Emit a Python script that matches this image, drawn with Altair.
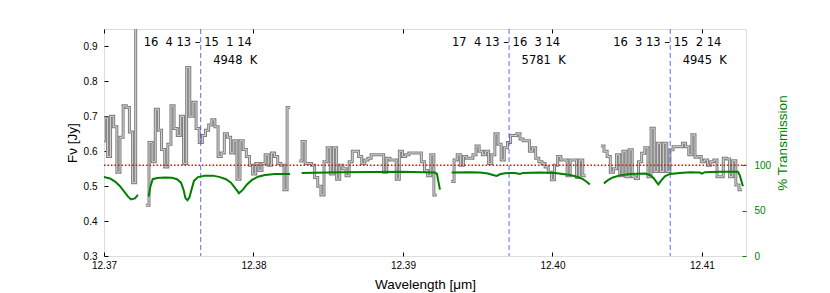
import altair as alt
import pandas as pd

# ---------------- data ----------------
# spectrum: sampled on a regular wavelength grid, separate segments
bin_width = 0.00021
seg_starts = [12.36981, 12.3728, 12.38304, 12.39321, 12.40324]

flux_a = [0.63, 0.695, 0.585, 0.70, 0.67, 0.54, 0.64, 0.73, 0.725, 0.655, 0.51, 1.2]
flux_b = [0.445, 0.625, 0.57, 0.72, 0.66, 0.605, 0.555, 0.62, 0.73, 0.665, 0.645, 0.70,
          0.565, 0.84, 0.70, 0.74, 0.665, 0.625, 0.645, 0.66, 0.675, 0.69, 0.67, 0.585,
          0.595, 0.65, 0.64, 0.595, 0.63, 0.52, 0.63, 0.605, 0.585, 0.56, 0.535, 0.565,
          0.545, 0.565, 0.59, 0.56, 0.595, 0.585, 0.565, 0.56, 0.49, 0.725, 0.725]
flux_c = [0.572, 0.628, 0.565, 0.565, 0.56, 0.525, 0.50, 0.475, 0.57, 0.61, 0.535, 0.61,
          0.52, 0.56, 0.55, 0.53, 0.57, 0.60, 0.60, 0.585, 0.565, 0.575, 0.58, 0.59,
          0.59, 0.59, 0.59, 0.54, 0.58, 0.575, 0.575, 0.52, 0.60, 0.585, 0.59, 0.595,
          0.595, 0.595, 0.595, 0.57, 0.545, 0.53, 0.59, 0.475, 0.475]
flux_d = [0.513, 0.575, 0.59, 0.56, 0.585, 0.58, 0.58, 0.59, 0.615, 0.60, 0.59, 0.60,
          0.565, 0.59, 0.65, 0.62, 0.575, 0.61, 0.625, 0.645, 0.645, 0.65, 0.635, 0.63,
          0.63, 0.60, 0.61, 0.58, 0.57, 0.565, 0.555, 0.54, 0.518, 0.56, 0.585, 0.575,
          0.575, 0.53, 0.575, 0.575, 0.525, 0.575, 0.53, 0.53]
flux_e = [0.615, 0.60, 0.585, 0.54, 0.55, 0.59, 0.53, 0.60, 0.527, 0.604, 0.527, 0.522,
          0.57, 0.594, 0.61, 0.527, 0.666, 0.542, 0.623, 0.542, 0.623, 0.542, 0.604, 0.613,
          0.613, 0.613, 0.623, 0.613, 0.59, 0.647, 0.583, 0.585, 0.57, 0.575, 0.56, 0.57,
          0.575, 0.527, 0.527, 0.58, 0.578, 0.527, 0.573, 0.503, 0.49, 0.49]
seg_flux = [flux_a, flux_b, flux_c, flux_d, flux_e]

# atmospheric transmission (%), segments
trans_wl_1 = [12.36993, 12.37040, 12.37074, 12.37107, 12.37134, 12.37161, 12.37181, 12.37207, 12.37227]
trans_pc_1 = [87.3, 85.4, 81.9, 76.9, 71.2, 65.4, 62.3, 63.5, 67.3]
trans_wl_2 = [12.37299, 12.37311, 12.373258, 12.373545, 12.37408, 12.374548, 12.374883, 12.375151,
              12.375318, 12.375452, 12.375585, 12.375719, 12.375853, 12.37602, 12.376288,
              12.376756, 12.377291, 12.377759, 12.378161, 12.378495, 12.378763, 12.37903,
              12.379298, 12.379565, 12.3799, 12.380301, 12.380769, 12.381438, 12.382441]
trans_pc_2 = [65.4, 76.9, 84.6, 85.8, 86.5, 86.2, 84.6, 80.8, 73.1, 63.5, 61.5, 64.6, 73.1,
              82.7, 86.9, 88.5, 88.5, 86.9, 84.6, 80.8, 75.0, 69.2, 73.1, 78.8, 83.8, 87.3,
              89.2, 90.4, 90.4]
trans_wl_3 = [12.383224, 12.385786, 12.389799, 12.39214, 12.392274, 12.392475]
trans_pc_3 = [91.5, 92.3, 92.7, 91.9, 90.4, 73.1]
trans_wl_4 = [12.393258, 12.394482, 12.395151, 12.395686, 12.39602, 12.396268, 12.396488,
              12.396823, 12.397492, 12.397826, 12.398027, 12.399164, 12.400167, 12.400702,
              12.401171, 12.401639, 12.40204, 12.402308, 12.402508]
trans_pc_4 = [91.9, 92.3, 91.9, 90.8, 89.2, 88.1, 90.0, 91.2, 91.5, 90.4, 91.5, 91.9, 91.5,
              90.4, 89.2, 87.3, 84.6, 81.5, 78.8]
trans_wl_5 = [12.403445, 12.403712, 12.404047, 12.404515, 12.405184, 12.406187, 12.406522,
              12.406789, 12.40699, 12.40709, 12.407258, 12.407525, 12.40786, 12.408528,
              12.409197, 12.409866, 12.41, 12.410201, 12.411204, 12.412408, 12.412542, 12.412742]
trans_pc_5 = [80.0, 83.5, 86.5, 88.8, 90.4, 90.8, 89.2, 85.4, 80.8, 78.8, 82.7, 87.7, 90.4,
              91.5, 92.3, 91.9, 90.8, 92.3, 92.7, 92.7, 88.5, 76.9]
trans_wl = [trans_wl_1, trans_wl_2, trans_wl_3, trans_wl_4, trans_wl_5]
trans_pc = [trans_pc_1, trans_pc_2, trans_pc_3, trans_pc_4, trans_pc_5]

# line markers
line_wl = [12.37647, 12.3971, 12.40788]
line_trans = ["16\u00a0\u00a04 13 \u2013 15\u00a0\u00a01 14",
              "17\u00a0\u00a04 13 \u2013 16\u00a0\u00a03 14",
              "16\u00a0\u00a03 13 \u2013 15\u00a0\u00a02 14"]
line_temp = ["4948\u00a0\u00a0K", "5781\u00a0\u00a0K", "4945\u00a0\u00a0K"]
continuum_level = [0.56]

x_ticks = [12.37, 12.38, 12.39, 12.40, 12.41]
y_ticks = [0.3, 0.4, 0.5, 0.6, 0.7, 0.8, 0.9]
t_ticks = [0, 50, 100]

# ---------------- tables ----------------
spec_rows = []
for s, (start, vals) in enumerate(zip(seg_starts, seg_flux)):
    for i, v in enumerate(vals):
        spec_rows.append({"wl": start + i * bin_width, "flux": v, "seg": s})
spec = pd.DataFrame(spec_rows)

tr_rows = []
for s, (ws, ts) in enumerate(zip(trans_wl, trans_pc)):
    for w, t in zip(ws, ts):
        tr_rows.append({"wl": w, "T": t, "seg": s})
trans = pd.DataFrame(tr_rows)

lines = pd.DataFrame({"wl": line_wl, "trans": line_trans, "temp": line_temp})
level = pd.DataFrame({"level": continuum_level})

FONT = "DejaVu Sans"
W, H = 642, 227
x_scale = alt.Scale(domain=[12.37, 12.41295], nice=False, zero=False)
y_scale = alt.Scale(domain=[0.3, 0.95], nice=False, zero=False)
t_scale = alt.Scale(domain=[0, 250], nice=False, zero=False)

x_axis_bottom = alt.Axis(values=x_ticks, format=".2f", title="Wavelength [\u03bcm]",
                         offset=-4, tickSize=4, domain=False, grid=False,
                         labelPadding=4, labelFontSize=10, titleFontSize=13.5,
                         titleFontWeight="normal", labelFlush=False,
                         titleX=W / 2, titleY=32, titleAlign="center", titleBaseline="middle",
                         tickColor="black", labelColor="black", titleColor="black")
x_axis_top = alt.Axis(orient="top", values=x_ticks, labels=False, title="",
                      offset=-4, tickSize=4, domain=False, grid=False, tickColor="black")
y_axis_left = alt.Axis(values=y_ticks, format=".1f", title="F\u03bd [Jy]",
                       offset=-4, tickSize=4, domain=False, grid=False,
                       labelPadding=7, labelFontSize=10, titleFontSize=13.5,
                       titleFontWeight="normal", titleAngle=270,
                       titleX=-36, titleY=H / 2, titleAlign="center", titleBaseline="middle",
                       tickColor="black", labelColor="black", titleColor="black")
t_axis_right = alt.Axis(orient="right", values=t_ticks, title="% Transmission",
                        offset=-4, tickSize=4, domain=False, grid=False,
                        labelPadding=8, labelFontSize=10, titleFontSize=13.5,
                        titleFontWeight="normal", titleAngle=270,
                        titleX=40, titleY=H / 2, titleAlign="center", titleBaseline="middle",
                        tickColor="green", labelColor="green", titleColor="green")

grey_outer = alt.Chart(spec).mark_line(interpolate="step-after", color="#808080",
                                       strokeWidth=3, clip=True).encode(
    x=alt.X("wl:Q", scale=x_scale, axis=x_axis_bottom),
    y=alt.Y("flux:Q", scale=y_scale, axis=y_axis_left),
    detail="seg:N",
)
grey_inner = alt.Chart(spec).mark_line(interpolate="step-after", color="#d4d4d4",
                                       strokeWidth=1, clip=True).encode(
    x=alt.X("wl:Q", scale=x_scale, axis=None),
    y=alt.Y("flux:Q", scale=y_scale, axis=None),
    detail="seg:N",
)
red = alt.Chart(level).mark_rule(color="red", strokeDash=[1.5, 2], strokeWidth=1.5).encode(
    y=alt.Y("level:Q", scale=y_scale, axis=None)
)
blue = alt.Chart(lines).mark_rule(color="#3344ff", strokeDash=[5, 3], strokeWidth=1,
                                  opacity=0.8).encode(
    x=alt.X("wl:Q", scale=x_scale, axis=x_axis_top)
)
txt1 = alt.Chart(lines).mark_text(align="center", baseline="middle", dx=-3,
                                  fontSize=11.5, font=FONT, color="black").encode(
    x=alt.X("wl:Q", scale=x_scale, axis=None), y=alt.value(14), text="trans:N"
)
txt2 = alt.Chart(lines).mark_text(align="left", baseline="middle", dx=12.5,
                                  fontSize=11.5, font=FONT, color="black").encode(
    x=alt.X("wl:Q", scale=x_scale, axis=None), y=alt.value(32), text="temp:N"
)

left = alt.layer(grey_outer, grey_inner, red, blue, txt1, txt2).resolve_axis(
    x="independent", y="independent")

green = alt.Chart(trans).mark_line(color="green", strokeWidth=2, clip=True).encode(
    x=alt.X("wl:Q", scale=x_scale, axis=None),
    y=alt.Y("T:Q", scale=t_scale, axis=t_axis_right),
    detail="seg:N",
)

chart = alt.layer(left, green).resolve_scale(y="independent").resolve_axis(
    x="independent", y="independent").properties(
    width=W, height=H,
    padding={"left": 96, "top": 21, "right": 76, "bottom": 37},
    autosize=alt.AutoSizeParams(type="none"),
).configure_view(stroke="black", strokeWidth=1).configure_axis(
    labelFont=FONT, titleFont=FONT
).configure(background="white")

chart.save("out.html", embed_options={"renderer": "svg", "actions": False})
